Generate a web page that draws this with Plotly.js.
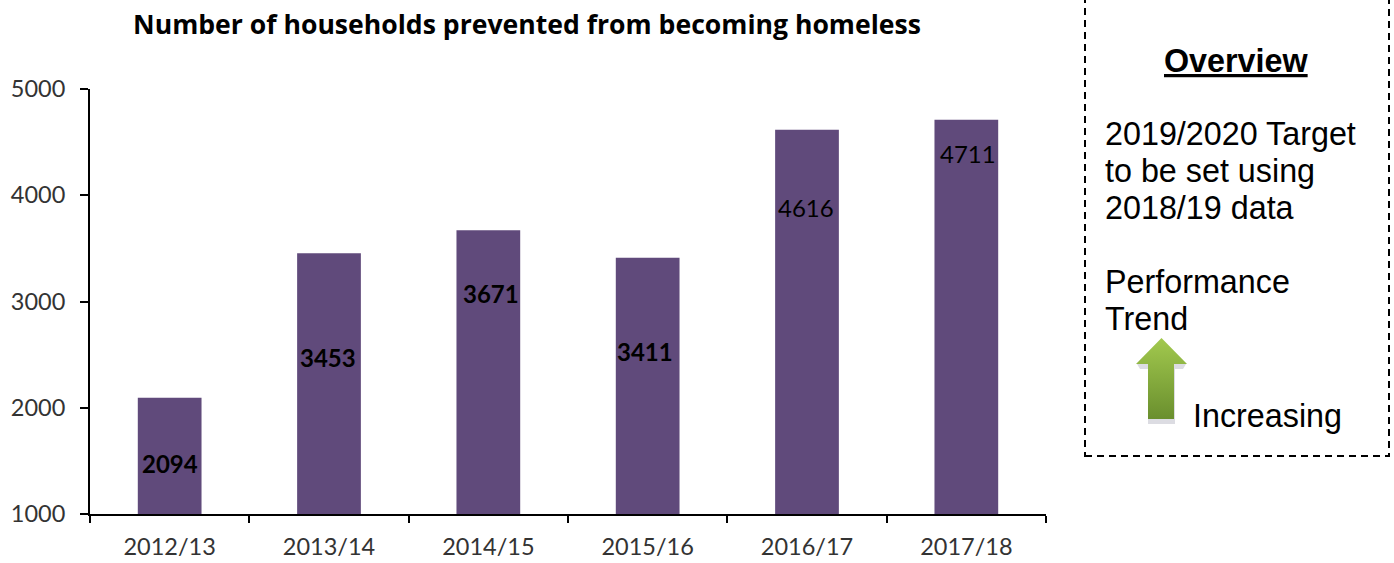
<!DOCTYPE html>
<html>
<head>
<meta charset="utf-8">
<script src="https://cdn.plot.ly/plotly-3.0.1.min.js"></script>
<style>html,body{margin:0;padding:0;background:#fff}#chart{width:1394px;height:563px}</style>
</head>
<body>
<div id="chart"></div>
<script>
const categories = ['2012/13','2013/14','2014/15','2015/16','2016/17','2017/18'];
const households = [2094,3453,3671,3411,4616,4711];
const labelHeights = [1480,2470,3080,2525,3885,4390];
const labelBold = [true,true,true,true,false,false];
const labelNudge = [0,-1,3,-3,-1,2];
const yTicks = [1000,2000,3000,4000,5000];
const titleText = 'Number of households prevented from becoming homeless';
const panelLines = [
  ['<b><u>Overview</u></b>',1236,61,'center'],
  ['2019/2020 Target',1103,134,'left'],
  ['to be set using',1103,171,'left'],
  ['2018/19 data',1103,208,'left'],
  ['Performance',1103,282,'left'],
  ['Trend',1103,319,'left'],
  ['Increasing',1191,416,'left']
];

const W=1394,H=563,L=90,R=1046,T=89,B=514;
const px=x=>(x-L)/(R-L), py=y=>(B-y)/(B-T);
const chartFont='Lato, "Open Sans", sans-serif';
const panelFont='"Liberation Sans", Arial, sans-serif';

const labelAnnotations = categories.map((c,i)=>({
  x:c, y:labelHeights[i], xref:'x', yref:'y', xshift:labelNudge[i],
  text:labelBold[i]?'<b>'+households[i]+'</b>':String(households[i]),
  showarrow:false, xanchor:'center', yanchor:'middle',
  font:{family:chartFont,size:24,color:'#000'}
}));
const panelAnnotations = panelLines.map(([t,x,y,a])=>({
  x:px(x), y:py(y), xref:'paper', yref:'paper', text:t, showarrow:false,
  xanchor:a, yanchor:'middle', font:{family:panelFont,size:32.3,color:'#000'}
}));

const arrowSvg = `<svg xmlns="http://www.w3.org/2000/svg" width="60" height="90" viewBox="0 0 60 90">
<defs><linearGradient id="g" x1="0" y1="0" x2="0" y2="1"><stop offset="0" stop-color="#a2c94e"/><stop offset="1" stop-color="#6a8f2e"/></linearGradient></defs>
<path d="M6 27H55L52 32H44V87H17V32H9Z" fill="#dcdce2"/>
<path d="M30.5 1L56 27H43V82H17V27H5Z" fill="url(#g)"/></svg>`;

Plotly.newPlot('chart',[{
  type:'bar', x:categories, y:households, width:0.4,
  marker:{color:'#604a7b',line:{width:0}}, hoverinfo:'x+y', cliponaxis:true
}],{
  width:W,height:H,autosize:false,showlegend:false,
  paper_bgcolor:'#fff',plot_bgcolor:'#fff',
  margin:{l:L,r:W-R,t:T,b:H-B,pad:0},
  title:{text:'<b>'+titleText+'</b>',x:527/W,xanchor:'center',xref:'container',y:1-25/H,yanchor:'middle',yref:'container',
    font:{family:'"Open Sans", sans-serif',size:26.6,color:'#000'}},
  bargap:0.6,
  xaxis:{type:'category',tickson:'boundaries',ticks:'outside',ticklen:7,tickwidth:2,tickcolor:'#000',
    showline:true,linecolor:'#000',linewidth:2,showgrid:false,zeroline:false,ticklabelstandoff:11,
    tickfont:{family:chartFont,size:23.5,color:'#333'},range:[-0.5,5.5]},
  yaxis:{range:[1000,5000],tickvals:yTicks,ticktext:yTicks.map(String),ticks:'outside',ticklen:8,tickwidth:2,tickcolor:'#000',
    showline:true,linecolor:'#000',linewidth:2,showgrid:false,zeroline:false,ticklabelstandoff:10,
    tickfont:{family:chartFont,size:23.5,color:'#333'}},
  annotations:[...labelAnnotations,...panelAnnotations],
  shapes:[{type:'rect',xref:'paper',yref:'paper',x0:px(1085),x1:px(1389),y0:py(456),y1:py(-10),
    line:{color:'#000',width:2,dash:'7px,5px'},fillcolor:'rgba(0,0,0,0)'}],
  images:[{source:'data:image/svg+xml;utf8,'+encodeURIComponent(arrowSvg),xref:'paper',yref:'paper',
    x:px(1131),y:py(337),sizex:60/(R-L),sizey:90/(B-T),xanchor:'left',yanchor:'top',sizing:'stretch',layer:'above'}]
},{displayModeBar:false,responsive:false});
</script>
</body>
</html>
